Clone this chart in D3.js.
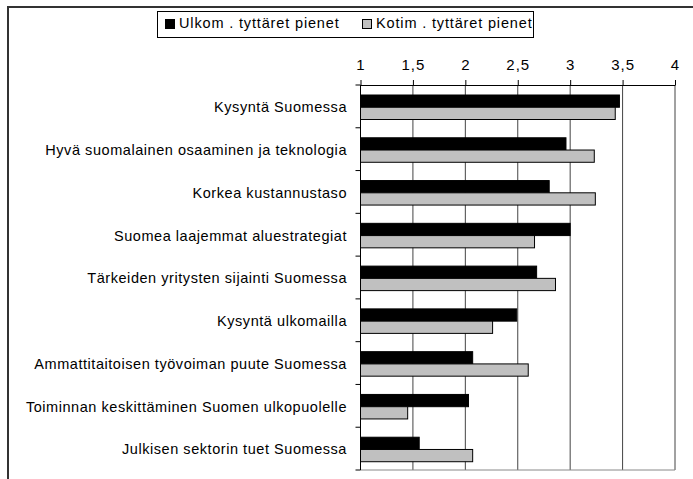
<!DOCTYPE html>
<html>
<head>
<meta charset="utf-8">
<script src="https://cdn.jsdelivr.net/npm/d3@7"></script>
<style>
  body { margin: 0; background: #fff; }
  svg { display: block; font-family: Arial, "Liberation Sans", sans-serif; }
</style>
</head>
<body>
<div id="chart"></div>
<script>
// Survey factors, mean scores (scale 1-4)
const categories = [
    "Kysyntä Suomessa",
    "Hyvä suomalainen osaaminen ja teknologia",
    "Korkea kustannustaso",
    "Suomea laajemmat aluestrategiat",
    "Tärkeiden yritysten sijainti Suomessa",
    "Kysyntä ulkomailla",
    "Ammattitaitoisen työvoiman puute Suomessa",
    "Toiminnan keskittäminen Suomen ulkopuolelle",
    "Julkisen sektorin tuet Suomessa"
];
const seriesNames = ["Ulkom . tyttäret pienet", "Kotim . tyttäret pienet"];
const ulkomValues = [3.47, 2.96, 2.80, 3.00, 2.68, 2.49, 2.07, 2.03, 1.56];
const kotimValues = [3.43, 3.23, 3.24, 2.66, 2.86, 2.26, 2.60, 1.45, 2.07];
const tickValues = [1, 1.5, 2, 2.5, 3, 3.5, 4];

const width = 693, height = 479;
const svg = d3.select("#chart").append("svg")
    .attr("width", width)
    .attr("height", height);

// outer frame (top + left edges visible)
svg.append("path")
    .attr("d", `M8,${height} V7 H${width}`)
    .attr("fill", "none")
    .attr("stroke", "#333")
    .attr("stroke-width", 2);

const x = d3.scaleLinear().domain([1, 4]).range([360.5, 675]);
const y = d3.scaleBand().domain(categories).range([85, 470]).paddingInner(0).paddingOuter(0);
const inner = d3.scaleBand().domain(seriesNames).range([10, 34.5]).padding(0);
const colors = { [seriesNames[0]]: "#000", [seriesNames[1]]: "#c0c0c0" };

// gridlines
svg.append("g")
    .selectAll("line")
    .data(tickValues.slice(1))
    .join("line")
    .attr("x1", d => x(d)).attr("x2", d => x(d))
    .attr("y1", 85).attr("y2", 470)
    .attr("stroke", "#444")
    .attr("stroke-width", 1);

// top axis
const fmt = d => String(d).replace(".", ",");
const topAxis = svg.append("g")
    .attr("transform", "translate(0,85)")
    .call(d3.axisTop(x).tickValues(tickValues).tickFormat(fmt).tickSize(5).tickPadding(10).tickSizeOuter(0));
topAxis.select(".domain").attr("stroke", "#000");
topAxis.selectAll(".tick line").attr("stroke", "#000");
topAxis.selectAll("text")
    .attr("font-size", 15)
    .attr("letter-spacing", 1)
    .attr("font-family", "Arial, 'Liberation Sans', sans-serif")
    .attr("fill", "#000");

// bottom line
svg.append("line")
    .attr("x1", x(1)).attr("x2", x(4))
    .attr("y1", 470).attr("y2", 470)
    .attr("stroke", "#888");

// bars
const rows = categories.map((c, i) => ({ cat: c, values: [ulkomValues[i], kotimValues[i]] }));
const groups = svg.append("g")
    .selectAll("g")
    .data(rows)
    .join("g")
    .attr("transform", d => `translate(0,${y(d.cat)})`);
groups.selectAll("rect")
    .data(d => d.values.map((v, j) => ({ name: seriesNames[j], value: v })))
    .join("rect")
    .attr("x", x(1))
    .attr("y", d => inner(d.name))
    .attr("width", d => x(d.value) - x(1))
    .attr("height", inner.bandwidth())
    .attr("fill", d => colors[d.name])
    .attr("stroke", "#000")
    .attr("stroke-width", 1);

// left axis with ticks at band boundaries
const boundaries = categories.map(c => y(c)).concat([470]);
svg.append("line")
    .attr("x1", x(1)).attr("x2", x(1))
    .attr("y1", 85).attr("y2", 470)
    .attr("stroke", "#000");
svg.append("g")
    .selectAll("line")
    .data(boundaries)
    .join("line")
    .attr("x1", x(1) - 5).attr("x2", x(1))
    .attr("y1", d => d).attr("y2", d => d)
    .attr("stroke", "#000");

svg.append("g")
    .selectAll("text")
    .data(categories)
    .join("text")
    .attr("x", 347)
    .attr("y", d => y(d) + y.bandwidth() / 2 + 2)
    .attr("text-anchor", "end")
    .attr("dominant-baseline", "middle")
    .attr("font-size", 14.5)
    .attr("letter-spacing", 0.55)
    .text(d => d);

// legend
const legend = svg.append("g");
legend.append("rect")
    .attr("x", 157.5).attr("y", 11.5)
    .attr("width", 376).attr("height", 26)
    .attr("fill", "#fff")
    .attr("stroke", "#000");
const legendX = [165, 362];
seriesNames.forEach((name, i) => {
    legend.append("rect")
        .attr("x", legendX[i] + 0.5).attr("y", 19.5)
        .attr("width", 9).attr("height", 9)
        .attr("fill", colors[name])
        .attr("stroke", "#000");
    legend.append("text")
        .attr("x", legendX[i] + 14)
        .attr("y", 24.5)
        .attr("dominant-baseline", "middle")
        .attr("font-size", 14.5)
        .attr("letter-spacing", 0.85)
        .text(name);
});
</script>
</body>
</html>
